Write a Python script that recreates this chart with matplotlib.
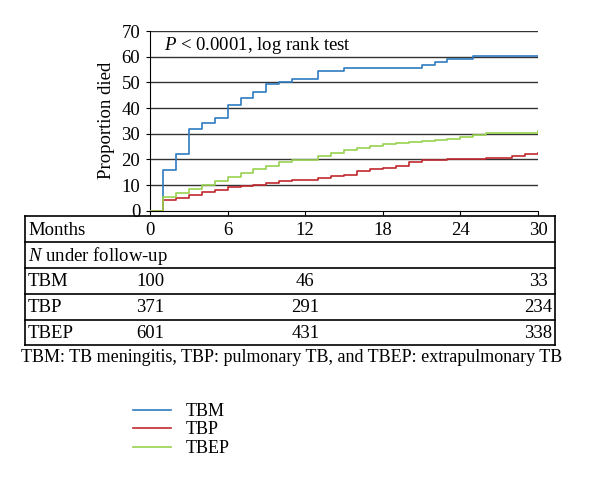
import matplotlib
matplotlib.use("Agg")
import matplotlib.pyplot as plt
from matplotlib.lines import Line2D
from matplotlib.transforms import blended_transform_factory

plt.rcParams['font.family'] = ['Liberation Serif', 'DejaVu Serif']
plt.rcParams['mathtext.fontset'] = 'custom'
plt.rcParams['mathtext.rm'] = 'Liberation Serif'
plt.rcParams['mathtext.it'] = 'Liberation Serif:italic'

# ---- data ----
months = list(range(0, 31))
tbm = [0, 16, 22, 32, 34, 36, 41, 44, 46.4, 49.2, 50.1, 51.2, 51.2, 54.5, 54.5,
       55.6, 55.6, 55.6, 55.6, 55.6, 55.6, 56.9, 58.0, 59.2, 59.2, 60.4, 60.4,
       60.4, 60.4, 60.4, 60.4]
tbp = [0, 4.0, 5.0, 6.2, 7.2, 8.2, 9.2, 9.8, 10.2, 10.7, 11.4, 12.0, 12.0, 12.7,
       13.4, 14.0, 15.6, 16.1, 16.8, 17.5, 19.1, 19.6, 19.9, 20.0, 20.1, 20.3,
       20.5, 20.7, 21.3, 21.9, 22.3]
tbep = [0, 5.3, 6.8, 8.5, 10.2, 11.7, 13.3, 14.8, 16.1, 17.4, 18.8, 19.7, 19.7,
        21.2, 22.3, 23.6, 24.3, 25.1, 25.9, 26.4, 26.9, 27.3, 27.7, 28.0, 28.6,
        29.3, 30.1, 30.1, 30.1, 30.1, 31.0]
series_names = ["TBM", "TBP", "TBEP"]
series_colors = ["#2f7cc0", "#c0282e", "#98d250"]

table_months = [0, 6, 12, 18, 24, 30]
followup_months = [0, 12, 30]
followup = {
    "TBM": [100, 46, 33],
    "TBP": [371, 291, 234],
    "TBEP": [601, 431, 338],
}
yticks = [0, 10, 20, 30, 40, 50, 60, 70]

W, H = 600, 480
fig = plt.figure(figsize=(6, 4.8), dpi=100)

def fx(px):
    return px / W

def fy(py):
    return 1 - py / H

ax = fig.add_axes([fx(150), fy(210.7), fx(538) - fx(150), fy(31) - fy(210.7)])
for vals, name, col in zip([tbm, tbp, tbep], series_names, series_colors):
    ax.step(months, vals, where='post', color=col, lw=1.2, label=name, zorder=3)

ax.set_xlim(0, 30)
ax.set_ylim(0, 70)
ax.set_yticks(yticks)
ax.set_xticks(table_months)
ax.set_xticklabels([])
for v in yticks[1:]:
    ax.axhline(v, color="#333333", lw=1.0, zorder=1)
ax.spines['top'].set_visible(False)
ax.spines['right'].set_visible(False)
ax.spines['left'].set_color('black')
ax.spines['bottom'].set_color('black')
ax.tick_params(axis='y', direction='out', length=3, pad=4, labelsize=13.5)
ax.tick_params(axis='x', direction='out', length=3)
ax.set_ylabel("Proportion died", fontsize=13.5, labelpad=5)
ax.text(1.1, 68.3, r"$P$ < 0.0001, log rank test", fontsize=13.5, va='top', ha='left')

# ---- table ----
tleft, tright = 25, 555
row_lines = [216, 242, 268, 294, 320, 345]
for y in row_lines:
    fig.add_artist(Line2D([fx(tleft), fx(tright)], [fy(y), fy(y)], color='black', lw=1.2))
for x in (tleft, tright):
    fig.add_artist(Line2D([fx(x), fx(x)], [fy(row_lines[0]), fy(row_lines[-1])], color='black', lw=1.2))

trans = blended_transform_factory(ax.transData, fig.transFigure)
fs = 13.5
row_centers = [(row_lines[i] + row_lines[i + 1]) / 2 + 1 for i in range(len(row_lines) - 1)]
fig.text(fx(28), fy(row_centers[0]), "Months", fontsize=fs, va='center', ha='left')
for m in table_months:
    fig.text(m, fy(row_centers[0]), str(m), fontsize=fs, va='center', ha='center', transform=trans)
fig.text(fx(28), fy(row_centers[1]), r"$N$ under follow-up", fontsize=fs, va='center', ha='left')
for i, name in enumerate(series_names):
    yc = fy(row_centers[2 + i])
    fig.text(fx(28), yc, name, fontsize=fs, va='center', ha='left')
    for m, n in zip(followup_months, followup[name]):
        fig.text(m, yc, str(n), fontsize=fs, va='center', ha='center', transform=trans)

fig.text(fx(292), fy(358), "TBM: TB meningitis, TBP: pulmonary TB, and TBEP: extrapulmonary TB",
         fontsize=13, ha='center', va='center')

handles, labels = ax.get_legend_handles_labels()
fig.legend(handles, labels, loc='upper left', bbox_to_anchor=(fx(133), fy(403)),
           frameon=False, fontsize=13, handlelength=2.1, handletextpad=0.8,
           labelspacing=0.08, borderpad=0, borderaxespad=0)

fig.savefig("out.png", dpi=100)
